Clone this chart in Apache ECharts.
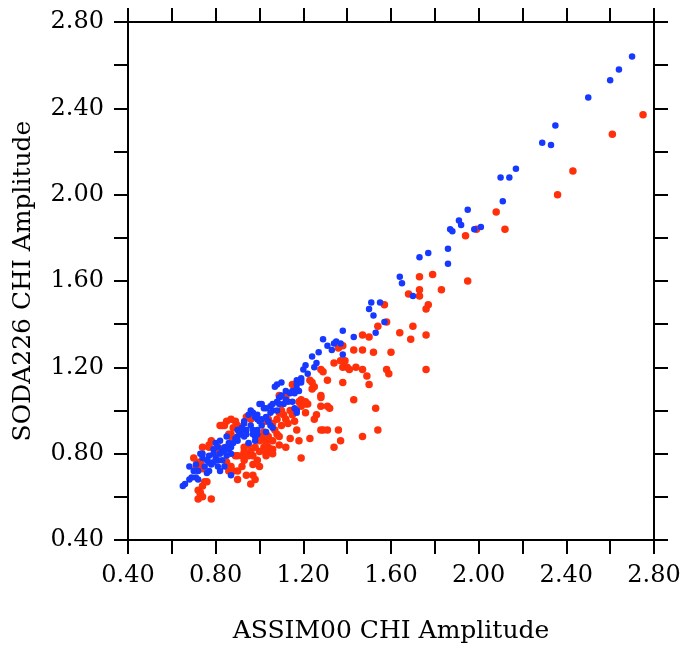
<!DOCTYPE html>
<html lang="en">
<head>
    <meta charset="UTF-8">
    <title>CHI amplitude scatter</title>
    <script src="https://cdn.jsdelivr.net/npm/echarts@6.0.0/dist/echarts.min.js"></script>
    <style>
        html, body { margin: 0; padding: 0; background: #fff; }
        #main { width: 684px; height: 649px; }
    </style>
</head>
<body>

<div id="main"></div>

<script type="text/javascript">

    // ASSIM00 (x) vs SODA226 (y) amplitude, red set
    var redPoints = [
        [2.75,2.37],[2.61,2.28],[2.43,2.11],[2.36,2.00],[2.08,1.92],[2.12,1.84],[1.94,1.81],[1.99,1.84],
        [1.95,1.60],[1.73,1.62],[1.79,1.63],[1.83,1.56],[1.68,1.54],[1.73,1.56],[1.73,1.53],[1.77,1.49],
        [1.76,1.47],[1.57,1.49],[1.58,1.41],[1.70,1.39],[1.64,1.36],[1.69,1.33],[1.76,1.35],[1.60,1.27],
        [1.58,1.19],[1.59,1.17],[1.76,1.19],
        [1.54,1.39],[1.47,1.35],[1.50,1.34],[1.36,1.29],[1.43,1.28],[1.47,1.28],[1.52,1.27],[1.38,1.30],
        [1.39,1.23],[1.37,1.23],[1.34,1.22],[1.38,1.20],[1.40,1.20],[1.41,1.19],[1.44,1.20],[1.47,1.19],
        [1.49,1.16],[1.28,1.19],[1.29,1.18],[1.38,1.13],[1.50,1.12],[1.31,1.14],[1.23,1.14],[1.24,1.13],
        [1.25,1.11],[1.24,1.10],[1.28,1.07],[1.28,1.06],[1.43,1.05],[1.53,1.01],[1.21,1.04],[1.22,1.03],
        [1.19,1.05],[1.18,1.04],[1.31,1.02],[1.32,1.01],[1.28,1.02],[1.26,0.98],[1.25,0.96],[1.12,0.96],
        [1.08,0.96],[1.09,0.99],[1.29,0.91],[1.31,0.91],[1.36,0.91],[1.47,0.88],[1.54,0.91],[1.37,0.86],
        [1.34,0.83],[1.23,0.87],[1.18,0.86],[1.14,0.87],[1.09,0.84],[1.12,0.83],[1.06,0.82],[1.03,0.79],
        [1.19,0.78],[1.15,1.12],[1.09,1.07],[1.12,1.06],[1.14,1.00],[1.10,1.00],[1.15,0.98],[1.19,1.02],
        [1.21,0.99],[1.11,0.98],[1.19,1.03],[1.21,1.03],[1.06,0.80],
        [1.03,0.95],[1.04,0.96],[1.06,0.94],[0.87,0.96],[0.89,0.95],[0.90,0.93],[1.28,0.91],
        [0.83,0.93],[0.85,0.95],[0.86,0.89],[0.87,0.89],[0.77,0.84],[0.93,0.83],[0.96,0.81],[0.95,0.79],
        [0.97,0.79],[1.01,0.88],[1.03,0.86],[1.04,0.83],[1.05,0.81],[1.03,0.80],[0.92,0.79],[0.93,0.77],
        [0.72,0.76],[0.71,0.73],[0.88,0.72],[0.90,0.72],[0.97,0.70],[0.98,0.68],[0.96,0.66],[0.90,0.68],
        [0.75,0.67],[0.74,0.65],[0.72,0.63],[0.73,0.61],[0.72,0.59],[0.78,0.59],
        [0.82,0.93],[0.84,0.93],[0.87,0.88],[0.77,0.83],[0.74,0.83],[0.73,0.76],[0.72,0.74],[0.74,0.73],
        [0.76,0.67],[0.73,0.62],[0.74,0.60],[0.81,0.83],[0.83,0.82],[0.85,0.83],[0.89,0.79],[0.90,0.79],
        [0.99,0.88],[1.00,0.86],[1.02,0.83],[1.00,0.81],[1.04,0.88],[1.06,0.86],[1.03,0.85],[1.08,0.89],
        [1.09,0.88],[1.02,0.90],[1.03,0.89],[0.94,0.97],[0.96,0.96],[0.99,0.77],[0.94,0.79],[0.93,0.81],
        [0.86,0.72],[0.87,0.74],[0.85,0.76],
        [0.88,0.92],[0.91,0.90],[0.95,0.84],[0.98,0.83],[0.97,0.75],[0.92,0.74],[0.80,0.80],[0.78,0.86],
        [1.07,0.91],[1.10,0.93],[1.13,0.94],[1.16,0.95],[1.17,0.91],[1.00,0.74],[0.94,0.70],[0.70,0.78]
    ];

    // blue set
    var bluePoints = [
        [2.70,2.64],[2.64,2.58],[2.60,2.53],[2.50,2.45],[2.35,2.32],[2.29,2.24],[2.33,2.23],[2.17,2.12],
        [2.10,2.08],[2.14,2.08],[2.11,1.97],[1.95,1.93],[1.91,1.88],[1.92,1.86],[1.87,1.84],[1.88,1.83],
        [1.98,1.84],[2.01,1.85],[1.86,1.75],[1.86,1.68],[1.77,1.73],[1.73,1.71],[1.64,1.62],[1.65,1.59],
        [1.70,1.53],[1.57,1.41],
        [1.51,1.50],[1.55,1.50],[1.50,1.47],[1.52,1.44],[1.38,1.37],[1.53,1.36],[1.43,1.34],[1.29,1.33],
        [1.34,1.31],[1.35,1.32],[1.37,1.31],[1.33,1.28],[1.38,1.26],[1.24,1.25],[1.26,1.22],[1.25,1.20],
        [1.20,1.19],[1.22,1.17],[1.19,1.15],[1.19,1.14],[1.17,1.12],
        [1.10,1.13],[1.08,1.12],[1.07,1.11],[1.12,1.09],[1.14,1.08],[1.16,1.08],[1.18,1.09],[1.09,1.06],
        [1.08,1.04],[1.11,1.03],[1.01,1.03],[1.02,1.01],[1.15,1.04],[1.17,1.00],[1.05,1.02],[1.06,1.00],
        [1.17,1.14],[1.19,1.13],[1.15,1.09],[1.17,1.10],[1.12,1.05],[1.13,1.04],[1.09,1.03],[1.06,1.03],
        [1.16,1.01],[1.17,0.99],[1.00,1.03],[1.03,1.01],[1.05,0.99],[1.03,0.97],
        [0.96,1.00],[0.97,0.99],[0.95,0.98],[0.99,0.98],[1.01,0.96],[1.05,0.93],[1.06,0.92],[0.93,0.94],
        [0.94,0.91],[0.92,0.91],[0.99,0.91],[0.98,0.88],[0.90,0.91],[0.90,0.88],
        [0.98,0.97],[0.99,0.96],[0.93,0.95],[0.96,0.93],[0.97,0.91],[0.92,0.92],[0.91,0.89],[0.93,0.88],
        [1.01,0.93],[1.03,0.90],[0.99,0.89],[0.97,0.89],[0.98,0.86],[0.95,0.85],[0.90,0.86],[0.88,0.85],
        [0.87,0.83],[0.84,0.83],[0.86,0.82],[0.83,0.81],[0.80,0.85],[0.81,0.83],[0.79,0.82],[0.87,0.80],
        [0.85,0.79],[0.83,0.77],[0.77,0.79],[0.80,0.78],[0.81,0.77],[0.78,0.75],[0.81,0.74],[0.82,0.72],
        [0.84,0.74],[0.75,0.74],[0.77,0.72],[0.76,0.71],[0.73,0.80],[0.74,0.78],[0.71,0.75],[0.72,0.72],
        [0.68,0.74],[0.70,0.72],[0.69,0.69],[0.68,0.68],[0.66,0.66],[0.65,0.65],[0.71,0.69],[0.72,0.68],
        [0.87,0.70],[0.85,0.88],[0.82,0.86],[0.74,0.80],[0.77,0.76],
        [0.79,0.80],[0.82,0.80],[0.84,0.81],[0.86,0.85],[0.89,0.87],[0.94,0.89],[1.00,0.95],[1.04,0.95],
        [1.08,1.00],[1.10,1.07],[1.21,1.21],[1.27,1.27],[1.31,1.30],[0.76,0.77],[0.79,0.76]
    ];

    // major tick labels (minor ticks every 0.2)
    var tickValues = [0.4, 0.8, 1.2, 1.6, 2.0, 2.4, 2.8];
    var tickLabels = ['0.40', '0.80', '1.20', '1.60', '2.00', '2.40', '2.80'];

    var FONT = 'DejaVu Serif';

    function majorLabel(v) {
        for (var i = 0; i < tickValues.length; i++) {
            if (Math.abs(tickValues[i] - v) < 1e-6) return tickLabels[i];
        }
        return '';
    }

    function makeAxis(pos, withLabels) {
        return {
            type: 'value',
            position: pos,
            min: 0.4,
            max: 2.8,
            interval: 0.2,
            axisLine: { show: true, onZero: false, lineStyle: { color: '#000', width: 2 } },
            axisTick: { show: true, inside: false, length: 14, lineStyle: { color: '#000', width: 2 } },
            splitLine: { show: false },
            axisLabel: {
                show: withLabels,
                formatter: majorLabel,
                color: '#000',
                fontFamily: FONT,
                fontSize: 24,
                margin: 24
            }
        };
    }

    var xBottom = makeAxis('bottom', true);
    xBottom.name = 'ASSIM00 CHI Amplitude';
    xBottom.nameLocation = 'middle';
    xBottom.nameGap = 79;
    xBottom.nameTextStyle = { color: '#000', fontFamily: FONT, fontSize: 25 };

    var yLeft = makeAxis('left', true);
    yLeft.name = 'SODA226 CHI Amplitude';
    yLeft.nameLocation = 'middle';
    yLeft.nameGap = 92;
    yLeft.nameTextStyle = { color: '#000', fontFamily: FONT, fontSize: 25 };

    var myChart = echarts.init(document.getElementById('main'), null, { renderer: 'canvas' });

    var option = {
        animation: false,
        backgroundColor: '#fff',
        grid: { left: 128, right: 30, top: 22, bottom: 109 },
        xAxis: [xBottom, makeAxis('top', false)],
        yAxis: [yLeft, makeAxis('right', false)],
        series: [
            {
                name: 'red',
                type: 'scatter',
                xAxisIndex: 0,
                yAxisIndex: 0,
                symbol: 'circle',
                symbolSize: 7.5,
                itemStyle: { color: '#FF300A', opacity: 1 },
                data: redPoints
            },
            {
                name: 'blue',
                type: 'scatter',
                xAxisIndex: 0,
                yAxisIndex: 0,
                symbol: 'circle',
                symbolSize: 6.5,
                itemStyle: { color: '#1638FF', opacity: 1 },
                data: bluePoints
            }
        ]
    };

    myChart.setOption(option);

</script>

</body>
</html>
